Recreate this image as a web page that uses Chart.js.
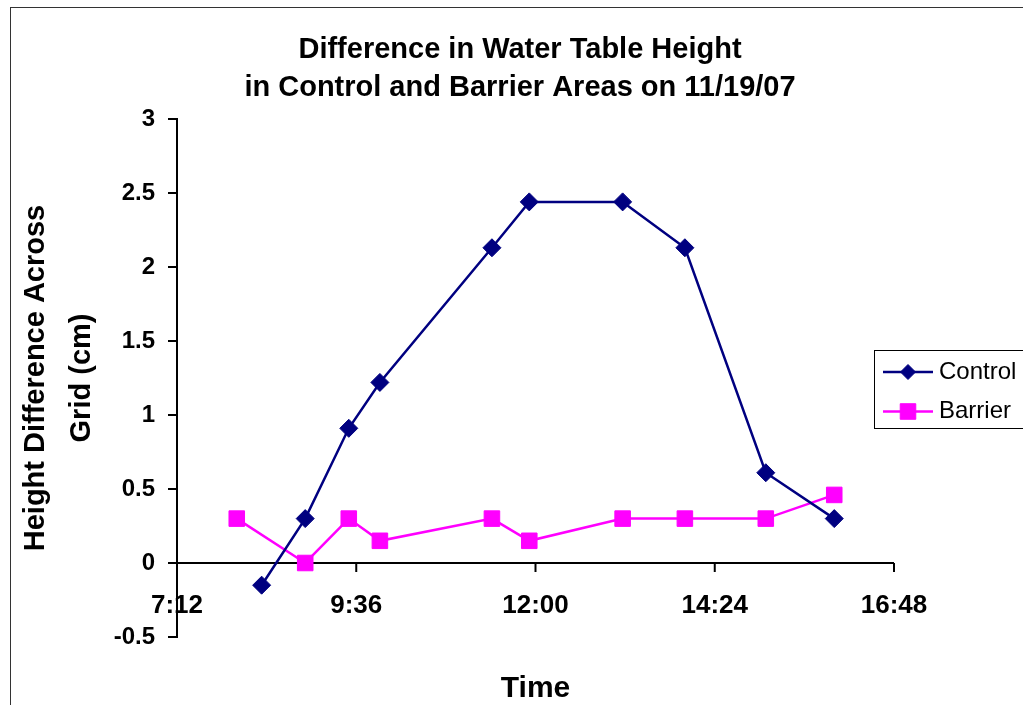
<!DOCTYPE html>
<html>
<head>
<meta charset="utf-8">
<script src="https://cdn.jsdelivr.net/npm/chart.js"></script>
<style>
  html, body { margin: 0; padding: 0; background: #fff; overflow: hidden; }
  #wrap { position: relative; width: 1023px; height: 705px; }
  /* Excel chart frame: only its top and left edges are inside the shot */
  #frame {
    position: absolute; left: 10px; top: 7px; width: 2000px; height: 2000px;
    border-left: 1px solid #333; border-top: 1px solid #333; pointer-events: none;
  }
</style>
</head>
<body>
<div id="wrap">
  <canvas id="chart"></canvas>
  <div id="frame"></div>
</div>
<script>
// readings taken 11/19/07, height difference in cm
const CONTROL_TIMES  = ['8:20', '8:55', '9:30', '9:55', '11:25', '11:55', '13:10', '14:00', '15:05', '16:00'];
const CONTROL_VALUES = [-0.15, 0.30, 0.91, 1.22, 2.13, 2.44, 2.44, 2.13, 0.61, 0.30];
const BARRIER_TIMES  = ['8:00', '8:55', '9:30', '9:55', '11:25', '11:55', '13:10', '14:00', '15:05', '16:00'];
const BARRIER_VALUES = [0.30, 0.00, 0.30, 0.15, 0.30, 0.15, 0.30, 0.30, 0.30, 0.46];
const X_TICKS = ['7:12', '9:36', '12:00', '14:24', '16:48'];
const Y_TICKS = [-0.5, 0, 0.5, 1, 1.5, 2, 2.5, 3];

const FONT = "'Liberation Sans', Arial, sans-serif";
Chart.defaults.font.family = FONT;
Chart.defaults.color = '#000';

function toMin(t) {
  const [h, m] = t.split(':').map(Number);
  return h * 60 + m;
}
function fmtTime(v) {
  return Math.floor(v / 60) + ':' + String(Math.round(v % 60)).padStart(2, '0');
}
function points(times, values) {
  return times.map((t, i) => ({ x: toMin(t), y: values[i] }));
}

// Excel hangs the category axis on y=0 but prints its labels low, just
// above the -0.5 line. Chart.js can't do that split, so the tick marks and
// the tick labels of the x scale are drawn here from the scale's own ticks.
const zeroAxisTicks = {
  id: 'zeroAxisTicks',
  beforeDatasetsDraw(chart) {
    const { ctx, chartArea, scales: { x, y } } = chart;
    const y0 = y.getPixelForValue(0);
    ctx.save();
    ctx.strokeStyle = '#000';
    ctx.lineWidth = 2;
    ctx.fillStyle = '#000';
    ctx.font = 'bold 26px ' + FONT;
    ctx.textAlign = 'center';
    ctx.textBaseline = 'middle';
    x.ticks.forEach(t => {
      const px = x.getPixelForValue(t.value);
      ctx.beginPath();
      ctx.moveTo(px, y0);
      ctx.lineTo(px, y0 + 9);
      ctx.stroke();
      ctx.fillText(fmtTime(t.value), px, chartArea.bottom - 31);
    });
    ctx.restore();
  }
};

// boxed legend sitting over the right edge, cut off by the frame like the original
const boxLegend = {
  id: 'boxLegend',
  afterDraw(chart) {
    const ctx = chart.ctx;
    ctx.save();
    ctx.strokeStyle = '#000';
    ctx.lineWidth = 1;
    ctx.strokeRect(874.5, 350.5, 200, 78);
    chart.data.datasets.forEach((ds, i) => {
      const y = 372 + i * 39.5;
      ctx.strokeStyle = ds.borderColor;
      ctx.lineWidth = ds.borderWidth;
      ctx.beginPath();
      ctx.moveTo(883, y);
      ctx.lineTo(933, y);
      ctx.stroke();
      ctx.fillStyle = ds.pointBackgroundColor;
      ctx.strokeStyle = ds.pointBorderColor;
      ctx.lineWidth = ds.pointBorderWidth;
      Chart.helpers.drawPoint(ctx, {
        pointStyle: ds.pointStyle,
        radius: ds.legendRadius,
        borderWidth: ds.pointBorderWidth,
        rotation: 0
      }, 908, y);
      ctx.fillStyle = '#000';
      ctx.font = '24px ' + FONT;
      ctx.textBaseline = 'middle';
      ctx.textAlign = 'left';
      ctx.fillText(ds.label, 939, y);
    });
    ctx.restore();
  }
};

new Chart(document.getElementById('chart'), {
  type: 'line',
  data: {
    datasets: [
      {
        label: 'Control',
        data: points(CONTROL_TIMES, CONTROL_VALUES),
        borderColor: '#000080',
        borderWidth: 2.5,
        pointStyle: 'rectRot',
        pointRadius: 9,
        legendRadius: 7.5,
        pointBackgroundColor: '#000080',
        pointBorderColor: '#000080',
        pointBorderWidth: 1,
        tension: 0,
        yAxisID: 'y'
      },
      {
        label: 'Barrier',
        data: points(BARRIER_TIMES, BARRIER_VALUES),
        borderColor: '#ff00ff',
        borderWidth: 2.5,
        pointStyle: 'rect',
        pointRadius: 11,
        legendRadius: 11,
        pointBackgroundColor: '#ff00ff',
        pointBorderColor: '#ff00ff',
        pointBorderWidth: 1,
        tension: 0,
        yAxisID: 'y'
      }
    ]
  },
  options: {
    responsive: true,
    maintainAspectRatio: false,
    animation: false,
    layout: { padding: { left: 17, right: 0, top: 0, bottom: 0 } },
    plugins: {
      legend: { display: false },
      tooltip: { enabled: false },
      title: {
        display: true,
        text: ['Difference in Water Table Height', 'in Control and Barrier Areas on 11/19/07'],
        color: '#000',
        font: { size: 29, weight: 'bold', lineHeight: 38 / 29 },
        padding: { top: 31, bottom: 12 }
      }
    },
    scales: {
      x: {
        type: 'linear',
        min: toMin(X_TICKS[0]),
        max: toMin(X_TICKS[X_TICKS.length - 1]),
        grid: { display: false, drawTicks: false },
        border: { display: false },
        ticks: {
          display: false,
          stepSize: toMin(X_TICKS[1]) - toMin(X_TICKS[0]),
          autoSkip: false
        },
        title: {
          display: true,
          text: 'Time',
          font: { size: 30, weight: 'bold' },
          padding: { top: 0, bottom: -2 }
        },
        afterFit: s => { s.height = 68; }
      },
      y: {
        position: 'left',
        min: Y_TICKS[0],
        max: Y_TICKS[Y_TICKS.length - 1],
        border: { display: true, color: '#000', width: 2 },
        grid: {
          color: c => (c.tick && c.tick.value === 0 ? '#000' : 'rgba(0,0,0,0)'),
          tickColor: '#000',
          tickLength: 9,
          lineWidth: 2
        },
        ticks: {
          stepSize: Y_TICKS[1] - Y_TICKS[0],
          callback: v => String(v),
          font: { size: 24, weight: 'bold' },
          padding: 13
        },
        title: {
          display: true,
          text: ['Height Difference Across', 'Grid (cm)'],
          font: { size: 29, weight: 'bold', lineHeight: 46 / 29 },
          padding: { top: -4, bottom: 0 }
        },
        afterFit: s => { s.width = 160; }
      },
      // empty right-hand box so the plot stops at 16:48 while the title stays centred on the page
      y2: {
        position: 'right',
        display: true,
        grid: { display: false },
        border: { display: false },
        ticks: { display: false },
        afterFit: s => { s.width = 129; }
      }
    }
  },
  plugins: [zeroAxisTicks, boxLegend]
});
</script>
</body>
</html>
